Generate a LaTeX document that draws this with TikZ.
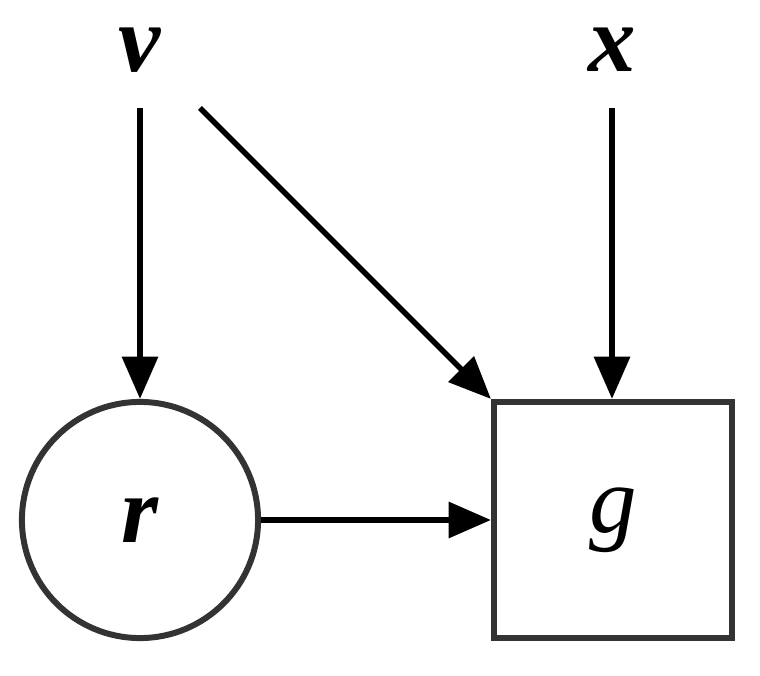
\documentclass[tikz,border=0pt]{standalone}
\usepackage{fontspec}
\setmainfont{Liberation Serif}
\usetikzlibrary{arrows.meta}
\begin{document}
\begin{tikzpicture}[x=0.01cm,y=-0.01cm,
  lbl/.style={font=\fontsize{27}{32}\selectfont\bfseries\itshape},
  arr/.style={line width=1.6pt,-{Triangle[length=12pt,width=10pt]}},
  shp/.style={draw=black!80,line width=1.7pt}]
\useasboundingbox (0,0) rectangle (760,676);
\node[lbl] (v) at (140,50) {v};
\node[lbl] (x) at (612,50) {x};
\node[shp,circle,minimum size=2.36cm,inner sep=0] (r) at (140,520) {};
\node[lbl] at (r) {r};
\node[shp,minimum width=2.38cm,minimum height=2.36cm,inner sep=0] (g) at (613,520) {};
\node[font=\fontsize{27}{32}\selectfont\itshape] at (g) {g};
\coordinate (v1) at (140,108);
\coordinate (v2) at (200,108);
\coordinate (x1) at (612,108);
\draw[arr] (v1) -- (r.north);
\draw[arr] (v2) -- (g.north west);
\draw[arr] (x1) -- (x1 |- g.north);
\draw[arr] (r.east) -- (g.west);
\end{tikzpicture}
\end{document}
